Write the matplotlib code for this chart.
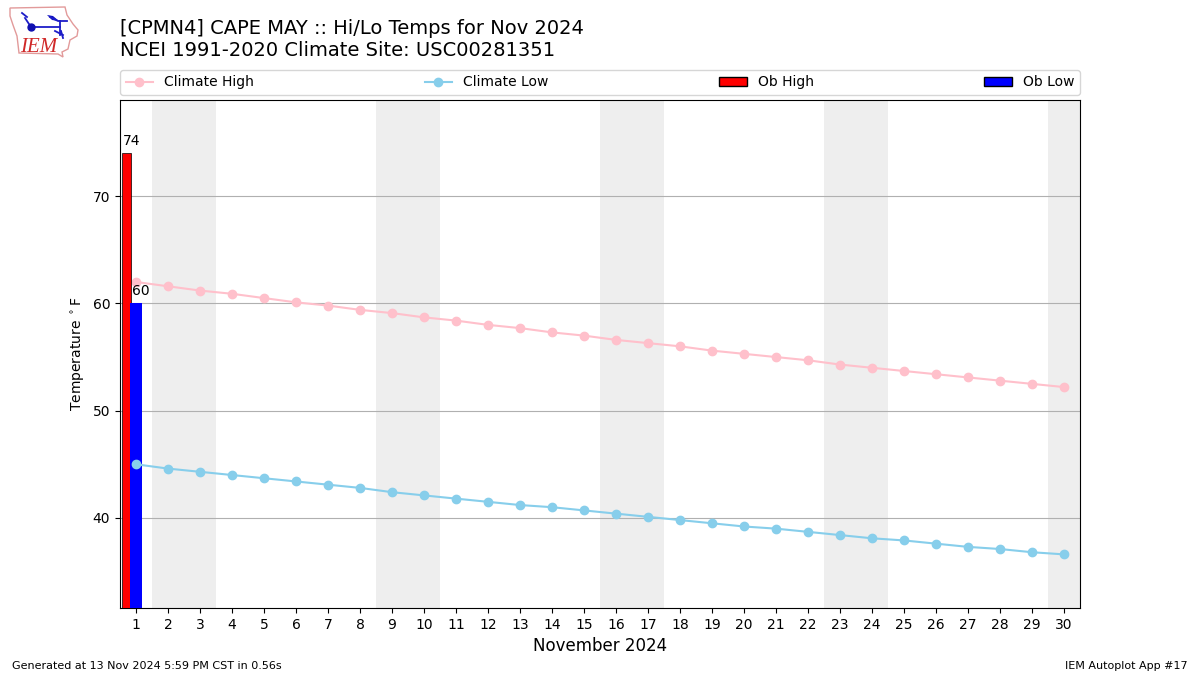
import matplotlib
matplotlib.use('Agg')
import matplotlib.pyplot as plt
from matplotlib.patches import Polygon, Patch

days = list(range(1, 31))
climate_high = [62.0, 61.6, 61.2, 60.9, 60.5, 60.1, 59.8, 59.4, 59.1, 58.7,
                58.4, 58.0, 57.7, 57.3, 57.0, 56.6, 56.3, 56.0, 55.6, 55.3,
                55.0, 54.7, 54.3, 54.0, 53.7, 53.4, 53.1, 52.8, 52.5, 52.2]
climate_low = [45.0, 44.6, 44.3, 44.0, 43.7, 43.4, 43.1, 42.8, 42.4, 42.1,
               41.8, 41.5, 41.2, 41.0, 40.7, 40.4, 40.1, 39.8, 39.5, 39.2,
               39.0, 38.7, 38.4, 38.1, 37.9, 37.6, 37.3, 37.1, 36.8, 36.6]
ob_days = [1]
ob_high = [74]
ob_low = [60]
weekends = [(1.5, 3.5), (8.5, 10.5), (15.5, 17.5), (22.5, 24.5), (29.5, 30.5)]

W, H = 1200, 675


def draw_logo(fig):
    # rough redraw of the Iowa outline logo, in pixel coords of the figure
    def px(x, y):
        return (x / W, 1 - y / H)

    outline = [(10, 8), (65, 7), (67, 15), (73, 24), (78, 30), (77, 36), (70, 40),
               (68, 49), (62, 52), (63, 57), (58, 54), (19, 53), (17, 36), (13, 25),
               (10, 16)]
    fig.add_artist(Polygon([px(*p) for p in outline], closed=True, fill=False,
                           edgecolor='#e29a9a', lw=1, transform=fig.transFigure))
    lines = [[(31, 27), (60, 27)], [(25, 18), (31, 27)], [(22, 13), (27, 17)],
             [(60, 21), (60, 35)], [(50, 17), (58, 21), (67, 21)], [(55, 31), (63, 35)],
             [(61, 31), (63, 38)]]
    for ln in lines:
        xs, ys = zip(*[px(*p) for p in ln])
        fig.add_artist(plt.Line2D(xs, ys, color='#1c1cc8', lw=1.3,
                                  transform=fig.transFigure))
    wing = [(47, 15), (53, 16), (59, 21), (52, 20)]
    fig.add_artist(Polygon([px(*p) for p in wing], closed=True, color='#1010c0', lw=0,
                           transform=fig.transFigure))
    fig.add_artist(plt.Line2D([31 / W], [1 - 27 / H], marker='o', ms=5, color='#1010b0',
                              transform=fig.transFigure))
    fig.text(20.5 / W, 1 - 52 / H, 'IEM', color='#d02828', fontsize=15, style='italic',
             family='Liberation Serif')


def main():
    fig = plt.figure(figsize=(12, 6.75), dpi=100)
    ax = fig.add_axes([120 / W, 1 - 608 / H, 960 / W, 508 / H])

    for lo, hi in weekends:
        ax.axvspan(lo, hi, color='#eeeeee', lw=0, zorder=0)

    ax.plot(days, climate_high, marker='o', color='pink', label='Climate High', zorder=2)
    ax.plot(days, climate_low, marker='o', color='skyblue', label='Climate Low', zorder=4)
    bars_hi = ax.bar([d - 0.3 for d in ob_days], ob_high, width=0.29, color='r',
                     edgecolor='k', lw=0.5, label='Ob High', zorder=3)
    bars_lo = ax.bar(ob_days, ob_low, width=0.35, align='center', color='b', lw=0,
                     label='Ob Low', zorder=3)

    for bar, val in zip(bars_hi.patches, ob_high):
        ax.text(bar.get_x() + 0.03, val + 0.5, str(val), fontsize=10, va='bottom', ha='left', zorder=5)
    for d, val in zip(ob_days, ob_low):
        ax.text(d - 0.14, val + 0.5, str(val), fontsize=10, va='bottom', ha='left', zorder=5)

    ax.set_xlim(0.5, 30.5)
    ax.set_ylim(31.6, 78.97)
    ax.set_xticks(days)
    ax.set_yticks([40, 50, 60, 70])
    ax.yaxis.grid(True, color='#b0b0b0', zorder=1)
    ax.set_axisbelow(True)
    ax.set_xlabel('November 2024', fontsize=12)
    ax.set_ylabel(r'Temperature $^\circ$F')

    # legend uses a black edged patch, the bar itself has none on the blue side
    handles, labels = ax.get_legend_handles_labels()
    handles[2] = Patch(facecolor='r', edgecolor='k', label='Ob High')
    handles[3] = Patch(facecolor='b', edgecolor='k', label='Ob Low')
    ax.legend(handles, labels, ncol=4, mode='expand', loc='lower left', borderaxespad=0,
              bbox_to_anchor=(0, 1 + 5 / 508, 1, 25 / 508), fontsize=10)

    fig.text(120 / W, 1 - 29 / H, '[CPMN4] CAPE MAY :: Hi/Lo Temps for Nov 2024',
             fontsize=14, va='center')
    fig.text(120 / W, 1 - 50 / H, 'NCEI 1991-2020 Climate Site: USC00281351',
             fontsize=14, va='center')
    fig.text(12 / W, 1 - 666 / H, 'Generated at 13 Nov 2024 5:59 PM CST in 0.56s',
             fontsize=8, va='center')
    fig.text(1188 / W, 1 - 666 / H, 'IEM Autoplot App #17', fontsize=8, va='center', ha='right')

    draw_logo(fig)
    fig.savefig('out.png', dpi=100)


if __name__ == '__main__':
    main()
